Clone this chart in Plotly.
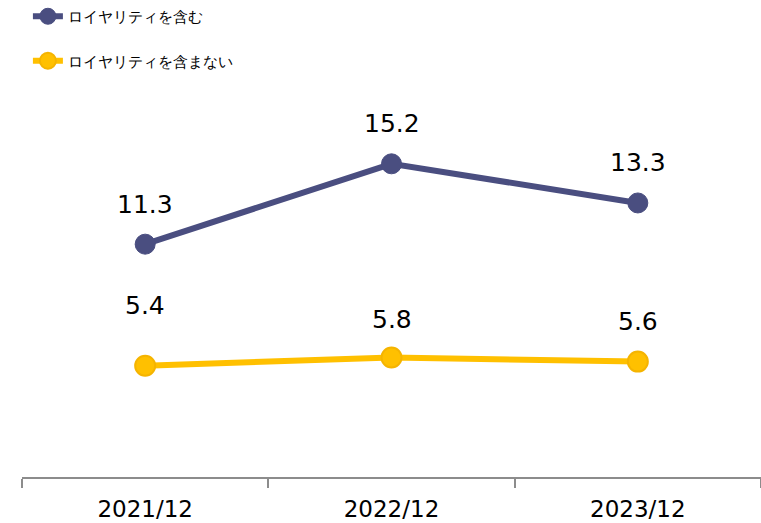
import plotly.graph_objects as go

categories = ["2021/12", "2022/12", "2023/12"]
series_names = ["ロイヤリティを含む", "ロイヤリティを含まない"]
with_royalty = [11.3, 15.2, 13.3]
without_royalty = [5.4, 5.8, 5.6]
label_shift_with = [40, 40, 40]
label_shift_without = [60, 38, 40]

NAVY = "#4A4E80"
YELLOW = "#FFC000"
YELLOW_EDGE = "#F5B400"

xs = list(range(len(categories)))

fig = go.Figure()
fig.add_trace(go.Scatter(
    x=xs, y=with_royalty, name=series_names[0], mode="lines+markers",
    line=dict(color=NAVY, width=6),
    marker=dict(size=20, color=NAVY, line=dict(color=NAVY, width=1)),
    legendgroup="a",
))
fig.add_trace(go.Scatter(
    x=xs, y=without_royalty, name=series_names[1], mode="lines+markers",
    line=dict(color=YELLOW, width=6),
    marker=dict(size=20, color=YELLOW, line=dict(color=YELLOW_EDGE, width=2)),
    legendgroup="b",
))

for vals, shifts in ((with_royalty, label_shift_with), (without_royalty, label_shift_without)):
    for x, v, s in zip(xs, vals, shifts):
        fig.add_annotation(x=x, y=v, text=f"{v:.1f}", showarrow=False,
                           yshift=s, xshift=0,
                           font=dict(family="DejaVu Sans", size=25, color="#000000"))

fig.update_layout(
    width=761, height=523,
    margin=dict(l=22, r=0, t=0, b=46, autoexpand=False),
    paper_bgcolor="white", plot_bgcolor="white",
    showlegend=True,
    legend=dict(x=0.008, y=1.0, xanchor="left", yanchor="top",
                font=dict(family="DejaVu Sans", size=15, color="#000000"),
                tracegroupgap=22, bgcolor="rgba(0,0,0,0)"),
    xaxis=dict(
        range=[-0.5, 2.5], tickmode="array", tickvals=xs, ticktext=categories,
        ticks="", showgrid=False, zeroline=False,
        showline=True, linecolor="#8C8C8C", linewidth=2,
        tickfont=dict(family="DejaVu Sans", size=23, color="#000000"),
        ticklabelstandoff=10,
        minor=dict(tickmode="linear", tick0=-0.5, dtick=1, ticks="outside",
                   ticklen=9, tickwidth=2, tickcolor="#8C8C8C", showgrid=False),
    ),
    yaxis=dict(range=[0, 23.15], visible=False, showgrid=False, zeroline=False),
)

fig.write_html("out.html", config={"displayModeBar": False},
               post_script="document.body.style.margin='0';document.body.style.overflow='hidden';")
